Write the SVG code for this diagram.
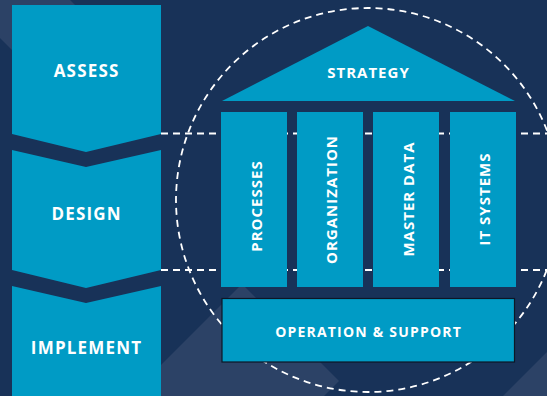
<svg xmlns="http://www.w3.org/2000/svg" width="547" height="396" viewBox="0 0 547 396">
<style>
.bg{fill:#183258}
.band{fill:#2c4266}
.blk{fill:#009bc5}
.lbl{font-family:"Open Sans","Liberation Sans",sans-serif;font-weight:bold;fill:#ffffff;text-anchor:middle}
.big{font-size:17px;letter-spacing:1.2px}
.mid{font-size:15px;letter-spacing:1px}
.sm{font-size:14px;letter-spacing:1.2px}
.dash{fill:none;stroke:#ffffff;stroke-width:1.8;stroke-dasharray:7 5}
</style>
<rect class="bg" x="0" y="0" width="547" height="396"/>
<polygon class="band" points="0,0 70,0 75,5 12,50 0,38"/>
<polygon class="band" points="242,284 339,381 324,396 130,396"/>
<polygon class="band" points="503,396 547,352 547,396"/>
<g id="guides">
<circle class="dash" cx="368" cy="200" r="192"/>
<line class="dash" x1="161" y1="133.5" x2="547" y2="133.5"/>
<line class="dash" x1="161" y1="270" x2="547" y2="270"/>
</g>
<g id="assess">
<polygon class="blk" points="12,5 161,5 161,134 86,152 12,134"/>
<text class="lbl big" x="86.6" y="77">ASSESS</text>
</g>
<g id="design">
<polygon class="blk" points="12,150 86,167 161,150 161,270 86,288 12,270"/>
<text class="lbl big" x="86.6" y="220">DESIGN</text>
</g>
<g id="implement">
<polygon class="blk" points="12,286 86,303 161,286 161,396 12,396"/>
<text class="lbl big" x="86.6" y="354">IMPLEMENT</text>
</g>
<g id="strategy">
<polygon class="blk" points="368,26 515,101 222,101"/>
<text class="lbl mid" x="368.5" y="78">STRATEGY</text>
</g>
<g id="processes">
<rect class="blk" x="221" y="112" width="66" height="175"/>
<text class="lbl mid" transform="translate(261.5,206) rotate(-90)">PROCESSES</text>
</g>
<g id="organization">
<rect class="blk" x="297" y="112" width="66" height="175"/>
<text class="lbl mid" transform="translate(336.5,199.5) rotate(-90)">ORGANIZATION</text>
</g>
<g id="master-data">
<rect class="blk" x="373" y="112" width="66" height="175"/>
<text class="lbl mid" transform="translate(414,199) rotate(-90)">MASTER DATA</text>
</g>
<g id="it-systems">
<rect class="blk" x="450" y="112" width="66" height="175"/>
<text class="lbl mid" transform="translate(490,199) rotate(-90)">IT SYSTEMS</text>
</g>
<g id="operation-support">
<rect class="blk" x="222" y="298.5" width="292.5" height="63.5" stroke="#0c1726" stroke-width="1.2"/>
<text class="lbl sm" x="368.6" y="336.5">OPERATION &amp; SUPPORT</text>
</g>
</svg>
